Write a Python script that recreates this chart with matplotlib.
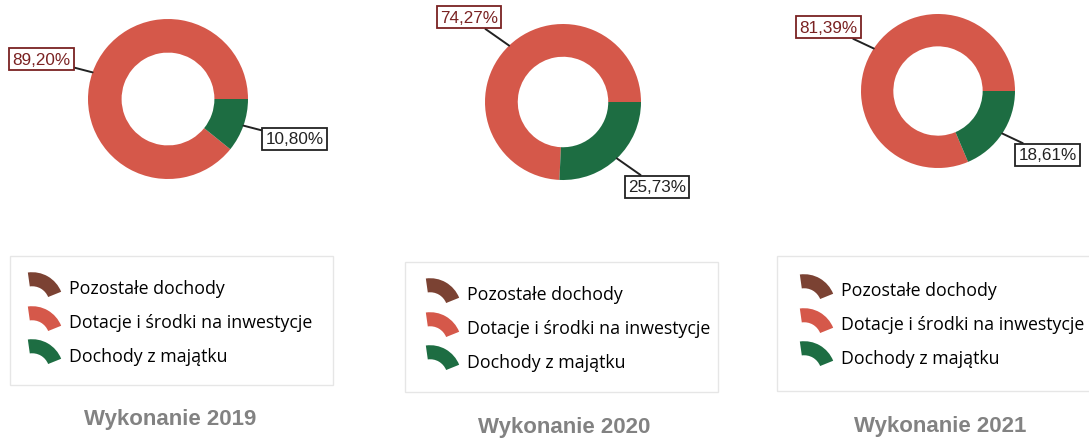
import numpy as np
import matplotlib
matplotlib.use("Agg")
import matplotlib.pyplot as plt
from matplotlib.patches import Wedge, Rectangle
from matplotlib.path import Path
from matplotlib.lines import Line2D

# data
years = ["Wykonanie 2019", "Wykonanie 2020", "Wykonanie 2021"]
categories = ["Pozostałe dochody", "Dotacje i środki na inwestycje", "Dochody z majątku"]
pozostale = [0.0, 0.0, 0.0]
dotacje = [89.20, 74.27, 81.39]
majatek = [10.80, 25.73, 18.61]

colors = ["#7b4233", "#d5584a", "#1d6d42"]
label_colors = ["#5a2a20", "#7a2222", "#222222"]

W, H = 1089, 439

# panel layout in pixels: pie centre, radius, legend frame, legend marker left, rows centre, title
panels = [
    dict(c=(168, 100), r=80, frame=(10, 257, 333, 386), lx=27, ly=323, title=(170, 420)),
    dict(c=(563, 103), r=78, frame=(405, 263, 718, 393), lx=425, ly=329, title=(564, 428)),
    dict(c=(938, 92), r=77, frame=(777, 257, 1095, 392), lx=799, ly=325, title=(940, 427)),
]


def arcMarker():
    w = Wedge((0, 0), 1, 22, 98, width=0.45)
    p = w.get_path()
    v = p.vertices.copy()
    v -= (v.max(axis=0) + v.min(axis=0)) / 2
    return Path(v, p.codes)


def fmtPct(v):
    return "{:.2f}%".format(v).replace(".", ",")


fig = plt.figure(figsize=(W / 100, H / 100), dpi=100)
fig.patch.set_facecolor("white")

marker = arcMarker()

for i, p in enumerate(panels):
    vals = [pozostale[i], dotacje[i], majatek[i]]
    cx, cy = p["c"]
    size = 2.5 * p["r"]
    ax = fig.add_axes([(cx - size / 2) / W, (H - cy - size / 2) / H, size / W, size / H])
    ax.pie(vals, colors=colors, startangle=0, counterclock=True, radius=1,
           wedgeprops=dict(width=0.42, edgecolor="none"))
    ax.set_xlim(-1.25, 1.25)
    ax.set_ylim(-1.25, 1.25)
    ax.set_aspect("equal")
    ax.axis("off")

    # labels with leader lines at the middle of each wedge
    total = sum(vals)
    cum = 0
    for j, v in enumerate(vals):
        if v <= 0:
            cum += v
            continue
        theta = np.deg2rad(360 * (cum + v / 2) / total)
        cum += v
        x, y = np.cos(theta), np.sin(theta)
        sx = 1 if x >= 0 else -1
        ax.annotate(fmtPct(v), xy=(x, y), xytext=(1.5 * x + sx * 0.17, 1.5 * y),
                    ha="center", va="center", fontsize=12.3, family="Liberation Sans",
                    color=label_colors[j], annotation_clip=False,
                    bbox=dict(boxstyle="square,pad=0.2", fc="white", ec=label_colors[j], lw=1.3),
                    arrowprops=dict(arrowstyle="-", color="#222222", lw=1.4,
                                    shrinkA=0, shrinkB=0))

    # legend frame
    x0, y0, x1, y1 = p["frame"]
    fig.patches.append(Rectangle((x0 / W, 1 - y1 / H), (x1 - x0) / W, (y1 - y0) / H,
                                 transform=fig.transFigure, fill=False,
                                 ec="#e6e6e6", lw=1.0))

    handles = [Line2D([], [], marker=marker, linestyle="none", color=c,
                      markersize=24, markeredgewidth=0) for c in colors]
    fig.legend(handles, categories, loc="center left",
               bbox_to_anchor=(p["lx"] / W, 1 - p["ly"] / H),
               frameon=False, borderpad=0, borderaxespad=0,
               handlelength=1.95, handletextpad=0.4, labelspacing=0.88,
               prop=dict(family="Open Sans", size=12.8))

    tx, ty = p["title"]
    fig.text(tx / W, 1 - ty / H, years[i], ha="center", va="center",
             fontsize=16, fontweight="bold", color="#828282", family="Liberation Sans")

fig.savefig("out.png", dpi=100, facecolor="white")
